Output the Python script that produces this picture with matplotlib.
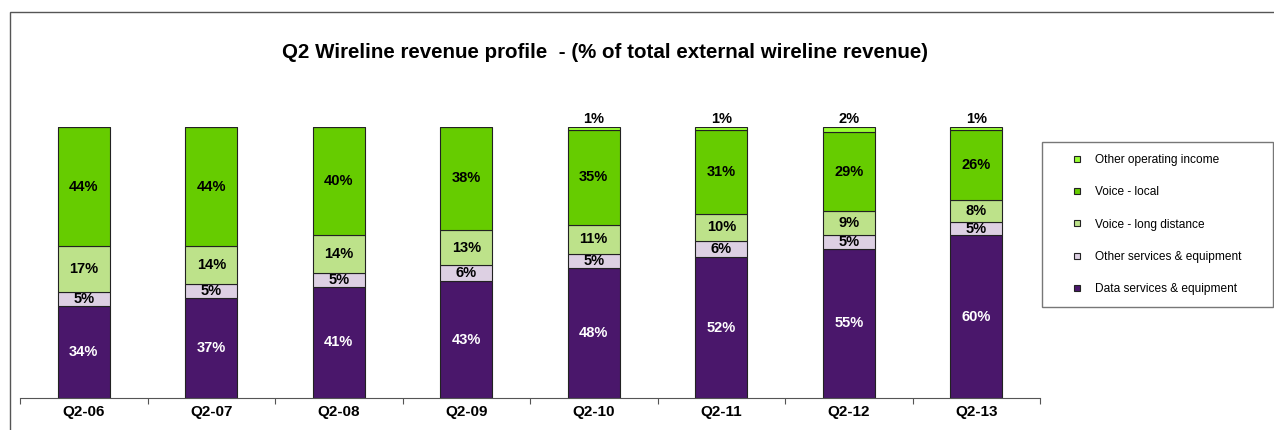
import matplotlib.pyplot as plt
import matplotlib.patches as mpatches
from matplotlib.lines import Line2D
import numpy as np

plt.rcParams['font.family'] = ['Liberation Sans', 'DejaVu Sans']

quarters = ['Q2-06', 'Q2-07', 'Q2-08', 'Q2-09', 'Q2-10', 'Q2-11', 'Q2-12', 'Q2-13']
data_services = [34, 37, 41, 43, 48, 52, 55, 60]
other_services = [5, 5, 5, 6, 5, 6, 5, 5]
voice_ld = [17, 14, 14, 13, 11, 10, 9, 8]
voice_local = [44, 44, 40, 38, 35, 31, 29, 26]
other_income = [0, 0, 0, 0, 1, 1, 2, 1]

series = [
    ('Data services & equipment', data_services, '#4a176b', 'white'),
    ('Other services & equipment', other_services, '#ddd0e3', 'black'),
    ('Voice - long distance', voice_ld, '#bde28a', 'black'),
    ('Voice - local', voice_local, '#66cc00', 'black'),
    ('Other operating income', other_income, '#99ff33', 'black'),
]

fig = plt.figure(figsize=(12.74, 4.30), dpi=100)
# outer frame
fig.patches.append(mpatches.Rectangle((10 / 1274, -0.1), 1.2, 1 - 12 / 430 + 0.1,
                                      transform=fig.transFigure, fill=False,
                                      edgecolor='#555555', lw=1.0))

ax = fig.add_axes([20 / 1274, 1 - 398 / 430, 1020 / 1274, 271 / 430])
x = np.arange(len(quarters))
bottom = np.zeros(len(quarters))
width = 0.41
for name, vals, color, tcolor in series:
    vals = np.array(vals, dtype=float)
    ax.bar(x, vals, width, bottom=bottom, color=color, edgecolor='#222222', lw=0.8)
    for i, v in enumerate(vals):
        if v <= 0:
            continue
        if name == 'Other operating income':
            ax.text(x[i], bottom[i] + v + 0.2, '%d%%' % v, ha='center', va='bottom',
                    fontsize=10.5, fontweight='bold', color=tcolor)
        else:
            ax.text(x[i], bottom[i] + v / 2, '%d%%' % v, ha='center', va='center',
                    fontsize=10.5, fontweight='bold', color=tcolor)
    bottom += vals

ax.set_xlim(-0.5, len(quarters) - 0.5)
ax.set_ylim(0, 100)
for s in ['top', 'right', 'left']:
    ax.spines[s].set_visible(False)
ax.spines['bottom'].set_color('#555555')
ax.set_yticks([])
ax.set_xticks(np.arange(-0.5, len(quarters)), minor=False)
ax.set_xticklabels([])
ax.tick_params(axis='x', direction='out', length=4, color='#555555')
ax.set_xticks(x, minor=True)
ax.set_xticklabels(quarters, minor=True, fontsize=11, fontweight='bold')
ax.tick_params(axis='x', which='minor', length=0, pad=5)

fig.text(605 / 1274, 1 - 53 / 430, 'Q2 Wireline revenue profile  - (% of total external wireline revenue)',
         ha='center', va='center', fontsize=14.8, fontweight='bold')

handles = [Line2D([], [], marker='s', ls='none', markersize=5, markerfacecolor=c,
                  markeredgecolor='#222222', markeredgewidth=0.8) for _, _, c, _ in series[::-1]]
labels = [n for n, _, _, _ in series[::-1]]
leg = fig.legend(handles, labels, loc='upper left',
                 bbox_to_anchor=(1042 / 1274, 1 - 142 / 430 - 0.01, 231 / 1274, 0.01), mode='expand',
                 fontsize=8.6, frameon=True, fancybox=False, labelspacing=1.7,
                 borderpad=1.0, handletextpad=-0.4, borderaxespad=0, handlelength=3.85)
leg.get_frame().set_edgecolor('#555555')
leg.get_frame().set_linewidth(1.0)

fig.savefig('out.png', dpi=100)
